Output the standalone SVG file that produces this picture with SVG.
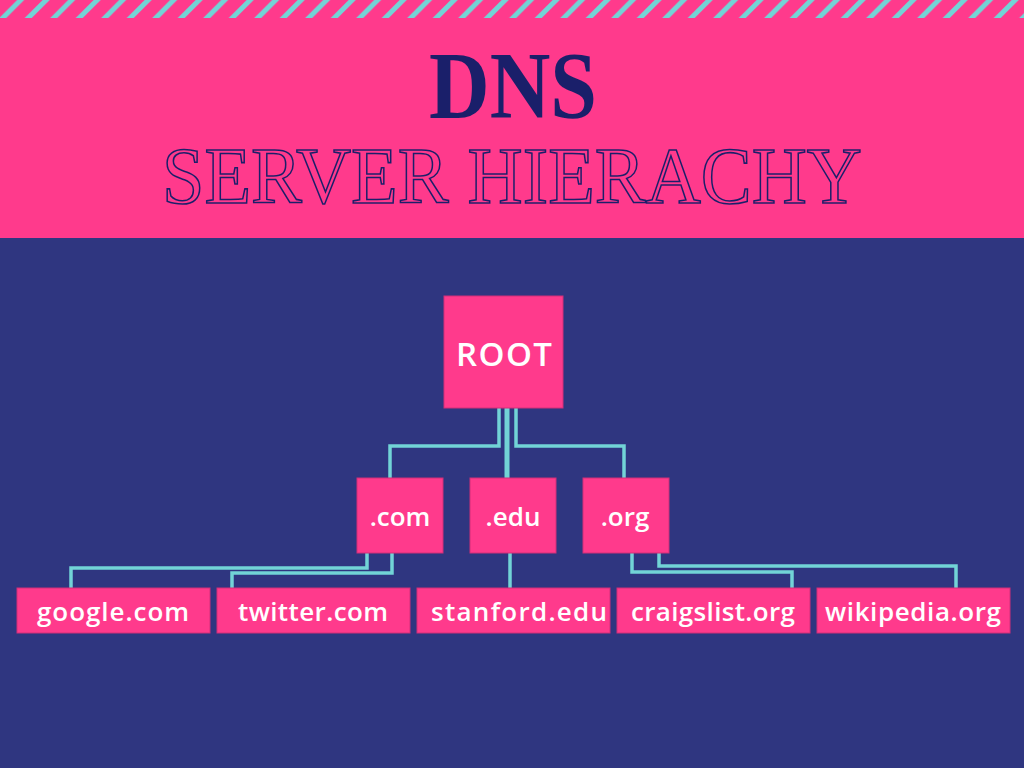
<svg xmlns="http://www.w3.org/2000/svg" width="1024" height="768" viewBox="0 0 1024 768">
<defs>
<style>
.box{fill:#FF3A8C;stroke:#D22F78;stroke-width:1}
.lbl{fill:#FFFFFF;font-family:"Open Sans","Noto Sans",sans-serif;font-weight:600;text-anchor:middle}
.leaf{font-size:26px}
.mid{font-size:26px}
.conn{fill:none;stroke:#72D4D6;stroke-width:3.5;stroke-linejoin:miter}
.stripe{stroke:#72D4D6;stroke-width:5}
</style>
<clipPath id="topclip"><rect x="0" y="0" width="1024" height="18"/></clipPath>
<pattern id="stripes" patternUnits="userSpaceOnUse" x="2.7" y="0" width="25.5" height="18">
<line class="stripe" x1="-5" y1="23" x2="25" y2="-7"/>
<line class="stripe" x1="20.5" y1="23" x2="50.5" y2="-7"/>
</pattern>
</defs>
<rect x="0" y="0" width="1024" height="768" fill="#2F3680"/>
<rect x="0" y="0" width="1024" height="238" fill="#FF3A8C"/>
<g id="stripes-band" clip-path="url(#topclip)">
<rect x="0" y="0" width="1024" height="18" fill="url(#stripes)"/>
</g>
<g id="title">
<text x="513" y="118" font-family="Liberation Serif, serif" font-weight="bold" font-size="95" fill="#1A1F6A" text-anchor="middle" textLength="168" lengthAdjust="spacingAndGlyphs">DNS</text>
<text x="512" y="203" font-family="Liberation Serif, serif" font-size="80" fill="none" stroke="#1A1F6A" stroke-width="1.6" text-anchor="middle" textLength="700" lengthAdjust="spacingAndGlyphs">SERVER HIERACHY</text>
</g>
<g id="connectors">
<polyline class="conn" points="499,408 499,446 390,446 390,478"/>
<polyline class="conn" points="507,408 507,478" style="stroke-width:5"/>
<polyline class="conn" points="516,408 516,446 624,446 624,478"/>
<polyline class="conn" points="367,553 367,568 71,568 71,588"/>
<polyline class="conn" points="392,553 392,573 232,573 232,588"/>
<polyline class="conn" points="510,553 510,588"/>
<polyline class="conn" points="632,553 632,572 792,572 792,588"/>
<polyline class="conn" points="659,553 659,566 956,566 956,588"/>
</g>
<g id="root">
<rect class="box" x="444" y="296" width="119" height="112"/>
<text class="lbl" x="504" y="366" font-size="33" textLength="96" lengthAdjust="spacing">ROOT</text>
</g>
<g id="com">
<rect class="box" x="357" y="478" width="86" height="75"/>
<text class="lbl mid" x="400" y="526">.com</text>
</g>
<g id="edu">
<rect class="box" x="470" y="478" width="86" height="75"/>
<text class="lbl mid" x="513" y="526">.edu</text>
</g>
<g id="org">
<rect class="box" x="583" y="478" width="86" height="75"/>
<text class="lbl mid" x="625" y="526">.org</text>
</g>
<g id="google">
<rect class="box" x="17" y="588" width="193" height="45"/>
<text class="lbl leaf" x="113" y="621" textLength="152" lengthAdjust="spacing">google.com</text>
</g>
<g id="twitter">
<rect class="box" x="217" y="588" width="193" height="45"/>
<text class="lbl leaf" x="313" y="621" textLength="150" lengthAdjust="spacing">twitter.com</text>
</g>
<g id="stanford">
<rect class="box" x="417" y="588" width="193" height="45"/>
<text class="lbl leaf" x="519" y="621" textLength="176" lengthAdjust="spacing">stanford.edu</text>
</g>
<g id="craigslist">
<rect class="box" x="617" y="588" width="193" height="45"/>
<text class="lbl leaf" x="713" y="621" textLength="164" lengthAdjust="spacing">craigslist.org</text>
</g>
<g id="wikipedia">
<rect class="box" x="817" y="588" width="193" height="45"/>
<text class="lbl leaf" x="913" y="621" textLength="176" lengthAdjust="spacing">wikipedia.org</text>
</g>
</svg>
